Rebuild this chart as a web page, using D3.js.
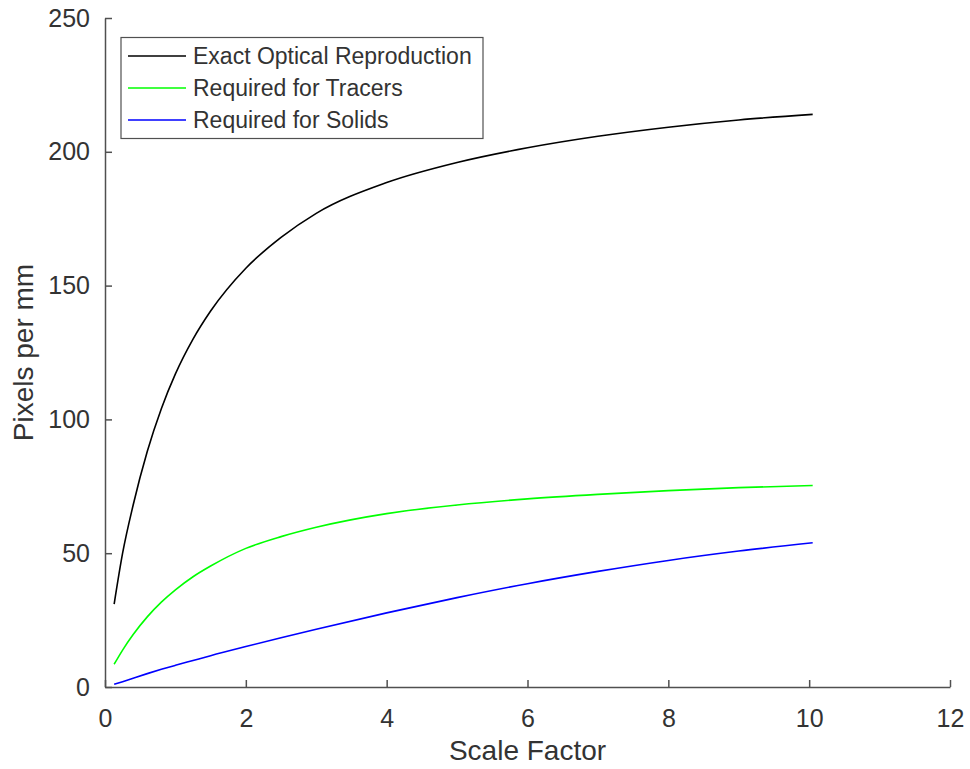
<!DOCTYPE html>
<html>
<head>
<meta charset="utf-8">
<script src="https://cdn.jsdelivr.net/npm/d3@7"></script>
<style>
  body { margin: 0; background: #fff; }
  svg text { font-family: "Liberation Sans", Arial, Helvetica, sans-serif; fill: #333; }
</style>
</head>
<body>
<svg id="chart" width="970" height="769"></svg>
<script>
// values
const scaleFactor = [0.13, 0.25, 0.4, 0.6, 0.8, 1, 1.25, 1.5, 2, 2.5, 3, 4, 5, 6, 7, 8, 9, 10.05];
const exactOptical = [31, 50, 68, 88, 104, 117, 130, 140.5, 156.5, 168, 177, 188.5, 196, 201.5, 205.8, 209.2, 211.9, 214];
const forTracers = [8.5, 13.8, 19.6, 26.2, 31.7, 36.3, 41.2, 45.2, 51.8, 56.2, 59.7, 64.8, 68.0, 70.3, 72.0, 73.4, 74.5, 75.3];
const forSolids = [1.0, 2.0, 3.3, 5.0, 6.6, 8.1, 9.9, 11.7, 15.1, 18.4, 21.6, 27.7, 33.4, 38.6, 43.2, 47.3, 50.8, 53.9];

const seriesNames = ['Exact Optical Reproduction', 'Required for Tracers', 'Required for Solids'];
const seriesColors = ['#000000', '#00ff00', '#0000ff'];
const xTicks = [0, 2, 4, 6, 8, 10, 12];
const yTicks = [0, 50, 100, 150, 200, 250];

const svg = d3.select('#chart');
const plot = { left: 105, top: 18, right: 950, bottom: 687 };

const x = d3.scaleLinear().domain([0, 12]).range([plot.left, plot.right]);
const y = d3.scaleLinear().domain([0, 250]).range([plot.bottom, plot.top]);

// axes, ticks pointing inward like matlab
const xAxis = svg.append('g')
    .attr('transform', `translate(0,${plot.bottom})`)
    .call(d3.axisBottom(x).tickValues(xTicks).tickSizeInner(-7).tickSizeOuter(0).tickPadding(22));
const yAxis = svg.append('g')
    .attr('transform', `translate(${plot.left},0)`)
    .call(d3.axisLeft(y).tickValues(yTicks).tickSizeInner(-7).tickSizeOuter(0).tickPadding(15));

[xAxis, yAxis].forEach(ax => {
    ax.select('.domain').attr('stroke', '#505050').attr('stroke-width', 1.5);
    ax.selectAll('.tick line').attr('stroke', '#505050').attr('stroke-width', 1.5);
    ax.selectAll('.tick text').attr('font-size', 25).attr('fill', '#333');
});

svg.append('text')
    .attr('x', (plot.left + plot.right) / 2)
    .attr('y', 760)
    .attr('text-anchor', 'middle')
    .attr('font-size', 28)
    .text('Scale Factor');

svg.append('text')
    .attr('transform', `translate(33,${(plot.top + plot.bottom) / 2}) rotate(-90)`)
    .attr('text-anchor', 'middle')
    .attr('font-size', 28)
    .text('Pixels per mm');

// curves
const allSeries = [exactOptical, forTracers, forSolids];
const line = d3.line()
    .x((d, i) => x(scaleFactor[i]))
    .y(d => y(d))
    .curve(d3.curveMonotoneX);

svg.selectAll('path.series')
    .data(allSeries)
    .enter()
    .append('path')
    .attr('class', 'series')
    .attr('fill', 'none')
    .attr('stroke', (d, i) => seriesColors[i])
    .attr('stroke-width', 1.6)
    .attr('d', d => line(d));

// legend
const legend = svg.append('g');
legend.append('rect')
    .attr('x', 121).attr('y', 37.5)
    .attr('width', 362).attr('height', 101)
    .attr('fill', '#fff')
    .attr('stroke', '#505050')
    .attr('stroke-width', 1.2);

const rows = legend.selectAll('g.row')
    .data(seriesNames)
    .enter()
    .append('g')
    .attr('class', 'row')
    .attr('transform', (d, i) => `translate(0,${56 + i * 32})`);

rows.append('line')
    .attr('x1', 128).attr('x2', 186)
    .attr('stroke', (d, i) => seriesColors[i])
    .attr('stroke-width', 1.6);

rows.append('text')
    .attr('x', 193)
    .attr('dy', '0.35em')
    .attr('font-size', 23)
    .text(d => d);
</script>
</body>
</html>
